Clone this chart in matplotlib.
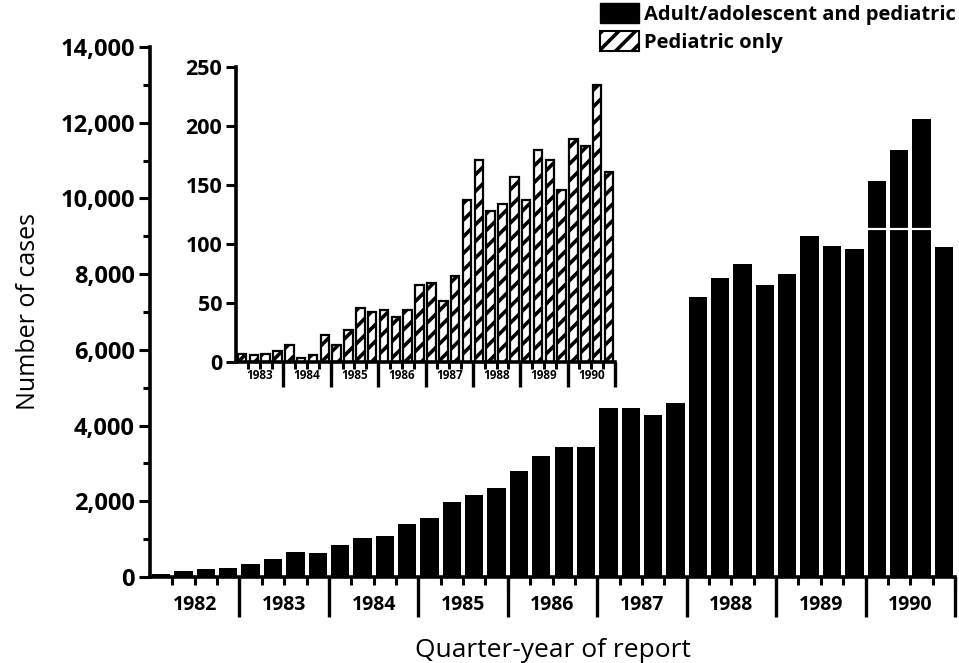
import matplotlib
matplotlib.use("Agg")
import matplotlib.pyplot as plt
from matplotlib.patches import Patch
import numpy as np

# ---------------- data ----------------
main_years = ["1982", "1983", "1984", "1985", "1986", "1987", "1988", "1989", "1990"]
all_cases = [80, 160, 210, 250,
             340, 470, 650, 630,
             850, 1040, 1090, 1390,
             1570, 1990, 2170, 2360,
             2800, 3200, 3430, 3430,
             4460, 4460, 4280, 4590,
             7400, 7910, 8260, 7710,
             8000, 9010, 8740, 8670,
             10450, 11270, 12090, 8720]
# white break line visible in the first three 1990 bars
break_quarters = [32, 33, 34]
break_level = 9200

inset_years = ["1983", "1984", "1985", "1986", "1987", "1988", "1989", "1990"]
pediatric_cases = [7, 6, 7, 9,
                   14, 3, 6, 23,
                   14, 27, 46, 42,
                   44, 38, 44, 65,
                   67, 52, 73, 137,
                   171, 128, 134, 157,
                   137, 180, 171, 146,
                   189, 183, 235, 161]

legend_labels = ["Adult/adolescent and pediatric", "Pediatric only"]
y_label = "Number of cases"
x_label = "Quarter-year of report"

# ---------------- style ----------------
FONT = "Open Sans"
plt.rcParams["font.family"] = [FONT, "DejaVu Sans"]
plt.rcParams["hatch.linewidth"] = 2.6
plt.rcParams["hatch.color"] = "black"

W, H = 959, 663
fig = plt.figure(figsize=(W / 100, H / 100), dpi=100)

def px_axes(left, right, bottom, top):
    return [left / W, 1 - bottom / H, (right - left) / W, (bottom - top) / H]

def year_axis(ax, years, n_per_year, sep_len, label_y, label_size, tick_len):
    nq = len(years) * n_per_year
    ax.set_xlim(-0.5, nq - 0.5)
    bounds = np.arange(nq + 1) - 0.5
    ax.set_xticks(bounds[1:], minor=True)
    ax.set_xticks([])
    ax.tick_params(axis="x", which="minor", length=tick_len, width=2.2, direction="out")
    tr = ax.get_xaxis_transform()
    for i, yr in enumerate(years):
        x0 = i * n_per_year - 0.5
        xc = x0 + n_per_year / 2
        ax.text(xc, label_y, yr, transform=tr, ha="center", va="center",
                fontsize=label_size, fontweight="bold", clip_on=False)
        x1 = x0 + n_per_year
        ax.plot([x1, x1], [0, -sep_len], transform=tr, color="black",
                lw=2.4, clip_on=False, solid_capstyle="butt")

# ---------------- main axes ----------------
ax = fig.add_axes(px_axes(150, 955, 577, 47))
x = np.arange(len(all_cases))
ax.bar(x, all_cases, width=0.82, color="black", edgecolor="black", linewidth=0)
brk_x = np.array(break_quarters)
ax.hlines([break_level] * len(brk_x), brk_x - 0.41, brk_x + 0.41,
          colors="white", linewidth=1.6, zorder=3)
ax.set_ylim(0, 14000)
ax.set_yticks(np.arange(0, 14001, 2000))
ax.set_yticks(np.arange(1000, 14000, 2000), minor=True)
ax.set_yticklabels([f"{v:,}" for v in range(0, 14001, 2000)],
                   fontsize=17, fontweight="bold")
ax.tick_params(axis="y", which="major", length=8, width=2.2, pad=3)
ax.tick_params(axis="y", which="minor", length=5, width=2.2)
for s in ["top", "right"]:
    ax.spines[s].set_visible(False)
ax.spines["left"].set_linewidth(2.6)
ax.spines["bottom"].set_linewidth(2.6)
year_axis(ax, main_years, 4, sep_len=0.075, label_y=-0.052, label_size=14, tick_len=6)
ax.set_ylabel(y_label, fontsize=18, labelpad=14)
ax.text(0.5 * (len(all_cases) - 1), -0.138, x_label, transform=ax.get_xaxis_transform(),
        ha="center", va="center", fontsize=19, clip_on=False)

# ---------------- inset ----------------
ins = fig.add_axes(px_axes(236, 615, 362, 67))
ins.patch.set_alpha(0)
xi = np.arange(len(pediatric_cases))
ins.bar(xi, pediatric_cases, width=0.72, color="white", edgecolor="black",
        linewidth=1.6, hatch="//")
ins.set_ylim(0, 250)
ins.set_yticks(np.arange(0, 251, 50))
ins.set_yticklabels([str(v) for v in range(0, 251, 50)], fontsize=15.5, fontweight="bold")
ins.tick_params(axis="y", length=7, width=2.2, pad=3)
for s in ["top", "right"]:
    ins.spines[s].set_visible(False)
ins.spines["left"].set_linewidth(2.6)
ins.spines["bottom"].set_linewidth(2.6)
year_axis(ins, inset_years, 4, sep_len=0.085, label_y=-0.045, label_size=8.5, tick_len=5)

# ---------------- legend ----------------
handles = [Patch(facecolor="black", edgecolor="black"),
           Patch(facecolor="white", edgecolor="black", hatch="//", linewidth=1.5)]
fig.legend(handles, legend_labels, loc="upper right", bbox_to_anchor=(1.0, 1.0),
           frameon=False, handlelength=1.95, handleheight=1.15,
           handletextpad=0.25, labelspacing=0.3, borderaxespad=0.05, borderpad=0.1,
           prop={"family": [FONT, "DejaVu Sans"], "weight": "bold", "size": 14.5})

fig.savefig("out.png", dpi=100)
